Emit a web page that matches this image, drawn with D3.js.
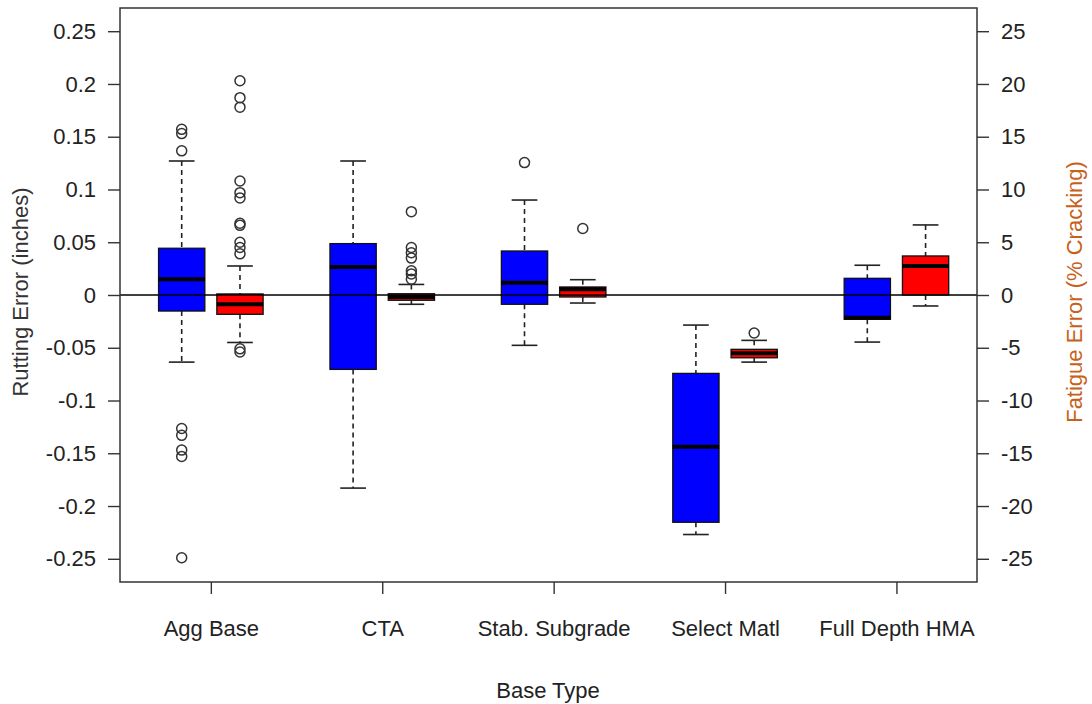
<!DOCTYPE html>
<html>
<head>
<meta charset="utf-8">
<script src="https://cdn.jsdelivr.net/npm/d3@7"></script>
<style>
  body { margin: 0; background: #fff; }
  text { font-family: "Liberation Sans", Arial, sans-serif; }
</style>
</head>
<body>
<svg id="chart" width="1092" height="704"></svg>
<script>
// categories
var baseTypes = ["Agg Base", "CTA", "Stab. Subgrade", "Select Matl", "Full Depth HMA"];

// rutting error (inches) - blue boxes
var rutLow  = [-0.0636, -0.183, -0.0477, -0.227, -0.0446];
var rutQ1   = [-0.0152, -0.0705, -0.0088, -0.2154, -0.023];
var rutMed  = [0.0149, 0.0266, 0.0117, -0.1439, -0.0215];
var rutQ3   = [0.0443, 0.0487, 0.0417, -0.0743, 0.0158];
var rutHigh = [0.127, 0.127, 0.090, -0.0285, 0.0282];
var rutOut  = [
  [0.157, 0.153, 0.1366, -0.1265, -0.133, -0.147, -0.153, -0.249],
  [],
  [0.1255],
  [],
  []
];

// fatigue error (% cracking) - red boxes
var fatLow  = [-4.5, -0.88, -0.76, -6.36, -1.04];
var fatQ1   = [-1.83, -0.5, -0.19, -5.95, 0.0];
var fatMed  = [-0.88, -0.2, 0.54, -5.53, 2.75];
var fatQ3   = [0.1, 0.12, 0.76, -5.15, 3.7];
var fatHigh = [2.75, 1.0, 1.45, -4.3, 6.64];
var fatOut  = [
  [20.3, 18.7, 17.8, 10.8, 9.7, 9.2, 6.8, 6.6, 5.0, 4.5, 3.9, -5.1, -5.4],
  [7.9, 4.5, 4.0, 3.5, 2.3, 2.0, 1.5],
  [6.3],
  [-3.6],
  []
];

// tick labels
var rutTicks = [0.25, 0.2, 0.15, 0.1, 0.05, 0, -0.05, -0.1, -0.15, -0.2, -0.25];
var fatTicks = [25, 20, 15, 10, 5, 0, -5, -10, -15, -20, -25];

var svg = d3.select("#chart");
var plotL = 120, plotR = 977, plotT = 8, plotB = 582;

var x = d3.scaleLinear().domain([0.47, 5.47]).range([plotL, plotR]);
var y = d3.scaleLinear().domain([-0.272, 0.272]).range([plotB, plotT]);
var y2 = d3.scaleLinear().domain([-27.2, 27.2]).range([plotB, plotT]);

var offset = 0.17, halfW = 0.135, capW = 0.075;

svg.append("rect").attr("width", 1092).attr("height", 704).attr("fill", "#fff");

var plot = svg.append("g");

function drawBox(i, sc, lo, q1, med, q3, hi, outs, fill, dx) {
    var cx = x(i + 1 + dx);
    var w = x(halfW) - x(0);
    var cw = x(capW) - x(0);
    var g = plot.append("g");
    // whiskers
    g.append("line").attr("x1", cx).attr("x2", cx).attr("y1", sc(hi)).attr("y2", sc(q3))
        .attr("stroke", "#222").attr("stroke-width", 1.6).attr("stroke-dasharray", "5,4");
    g.append("line").attr("x1", cx).attr("x2", cx).attr("y1", sc(q1)).attr("y2", sc(lo))
        .attr("stroke", "#222").attr("stroke-width", 1.6).attr("stroke-dasharray", "5,4");
    g.append("line").attr("x1", cx - cw).attr("x2", cx + cw).attr("y1", sc(hi)).attr("y2", sc(hi))
        .attr("stroke", "#222").attr("stroke-width", 1.6);
    g.append("line").attr("x1", cx - cw).attr("x2", cx + cw).attr("y1", sc(lo)).attr("y2", sc(lo))
        .attr("stroke", "#222").attr("stroke-width", 1.6);
    // box
    g.append("rect").attr("x", cx - w).attr("width", 2 * w)
        .attr("y", sc(q3)).attr("height", Math.max(sc(q1) - sc(q3), 1))
        .attr("fill", fill).attr("stroke", "#111").attr("stroke-width", 1.3);
    g.append("line").attr("x1", cx - w).attr("x2", cx + w).attr("y1", sc(med)).attr("y2", sc(med))
        .attr("stroke", "#000").attr("stroke-width", 4);
    // outliers
    g.selectAll("circle").data(outs).enter().append("circle")
        .attr("cx", cx).attr("cy", function(d){ return sc(d); })
        .attr("r", 5).attr("fill", "none").attr("stroke", "#333").attr("stroke-width", 1.5);
}

baseTypes.forEach(function(b, i) {
    drawBox(i, y, rutLow[i], rutQ1[i], rutMed[i], rutQ3[i], rutHigh[i], rutOut[i], "#0000ff", -offset);
    drawBox(i, y2, fatLow[i], fatQ1[i], fatMed[i], fatQ3[i], fatHigh[i], fatOut[i], "#ff0000", offset);
});

// zero line
plot.append("line").attr("x1", plotL).attr("x2", plotR).attr("y1", y(0)).attr("y2", y(0))
    .attr("stroke", "#000").attr("stroke-width", 1.3);

// frame
svg.append("rect").attr("x", plotL).attr("y", plotT).attr("width", plotR - plotL).attr("height", plotB - plotT)
    .attr("fill", "none").attr("stroke", "#333").attr("stroke-width", 1.5);

// axes
var yAxis = svg.append("g").attr("transform", "translate(" + plotL + ",0)")
    .call(d3.axisLeft(y).tickValues(rutTicks).tickSize(12).tickPadding(12).tickFormat(function(d){ return String(d); }));
var y2Axis = svg.append("g").attr("transform", "translate(" + plotR + ",0)")
    .call(d3.axisRight(y2).tickValues(fatTicks).tickSize(12).tickPadding(12).tickFormat(function(d){ return String(d); }));
var xAxis = svg.append("g").attr("transform", "translate(0," + plotB + ")")
    .call(d3.axisBottom(x).tickValues(d3.range(1, baseTypes.length + 1)).tickSize(12).tickPadding(26)
        .tickFormat(function(d){ return baseTypes[d - 1]; }));

[yAxis, y2Axis, xAxis].forEach(function(a) {
    a.select(".domain").remove();
    a.selectAll(".tick line").attr("stroke", "#333").attr("stroke-width", 1.4);
    a.selectAll(".tick text").attr("font-size", "22px").attr("fill", "#222")
        .attr("font-family", "Liberation Sans, Arial, sans-serif");
});

// axis titles
svg.append("text").attr("transform", "translate(28,292) rotate(-90)")
    .attr("text-anchor", "middle").attr("font-size", "22px").attr("fill", "#333")
    .text("Rutting Error (inches)");
svg.append("text").attr("transform", "translate(1082,292) rotate(-90)")
    .attr("text-anchor", "middle").attr("font-size", "22px").attr("fill", "#c8601a")
    .text("Fatigue Error (% Cracking)");
svg.append("text").attr("x", 548).attr("y", 698)
    .attr("text-anchor", "middle").attr("font-size", "22px").attr("fill", "#222")
    .text("Base Type");
</script>
</body>
</html>
